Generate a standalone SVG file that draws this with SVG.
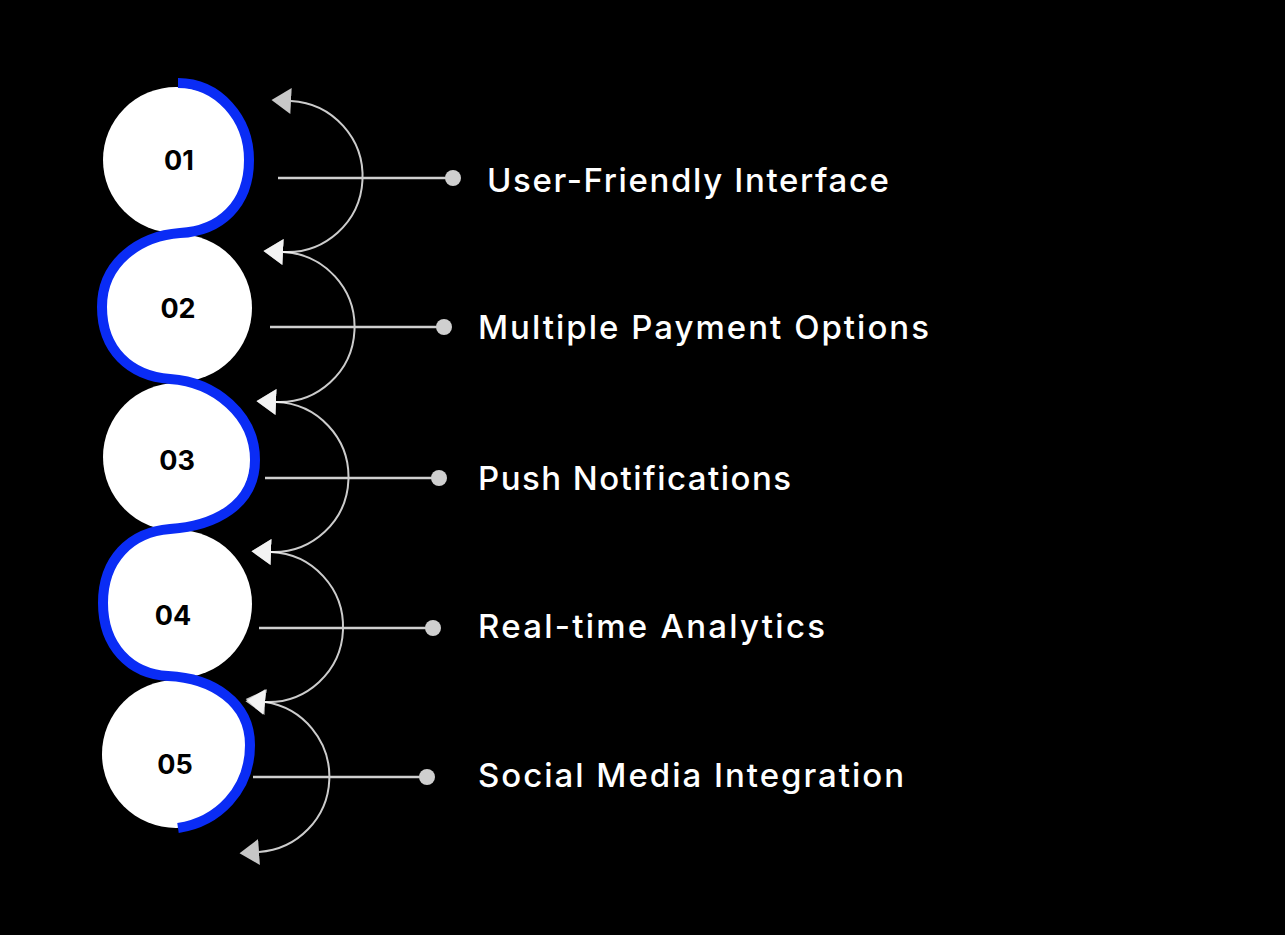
<svg xmlns="http://www.w3.org/2000/svg" width="1285" height="935" viewBox="0 0 1285 935">
<style>
.bg{fill:#000}
.disc{fill:#fff}
.num{font-family:Inter,"Open Sans","Liberation Sans",sans-serif;font-weight:700;font-size:27px;fill:#000;text-anchor:middle}
.lbl{font-family:Inter,"Open Sans","Liberation Sans",sans-serif;font-weight:500;font-size:33px;fill:#fff}
.wave{fill:none;stroke:#0a2cf5;stroke-width:10;stroke-linecap:butt}
.arc{fill:none;stroke:#fff;stroke-opacity:0.8;stroke-width:2}
.lead{stroke:#cfcfcf;stroke-width:2.5}
.dot{fill:#cfcfcf}
</style>
<defs>
<marker id="ah" markerUnits="userSpaceOnUse" markerWidth="20" markerHeight="26" viewBox="0 -12 18 24" refX="0" refY="0" orient="auto-start-reverse">
<path d="M0,-12 L18,0 L0,12 Z" fill="#fff" fill-opacity="0.78"/>
</marker>
</defs>
<rect class="bg" x="0" y="0" width="1285" height="935"/>
<g id="node-01"><circle class="disc" cx="176" cy="160" r="73"/><text class="num" x="179" y="170">01</text></g>
<g id="node-02"><circle class="disc" cx="178" cy="308" r="74"/><text class="num" x="178" y="318">02</text></g>
<g id="node-03"><circle class="disc" cx="177" cy="457" r="74"/><text class="num" x="177" y="470">03</text></g>
<g id="node-04"><circle class="disc" cx="178" cy="604" r="74"/><text class="num" x="173" y="625">04</text></g>
<g id="node-05"><circle class="disc" cx="176" cy="754" r="74"/><text class="num" x="175" y="774">05</text></g>
<g id="wave">
<path class="wave" d="M178,83 C218,83 249,118 249,160 C249,205 220,231 180,233 C140,236 102,262 102,307 C102,350 130,376 170,379 C215,382 255,415 255,460 C255,505 215,526 170,529 C130,532 103,560 103,603 C103,646 130,674 168,676 C212,678 250,702 250,745 C250,790 218,822 178,828"/>
</g>
<g id="connectors">
<path class="arc" d="M291,101 A75.5,75.5 0 0 1 283,252" marker-start="url(#ah)" marker-end="url(#ah)"/>
<path class="arc" d="M283,252 A75,75 0 0 1 276,402" marker-start="url(#ah)" marker-end="url(#ah)"/>
<path class="arc" d="M276,402 A75,75 0 0 1 271,552" marker-start="url(#ah)" marker-end="url(#ah)"/>
<path class="arc" d="M271,552 A75,75 0 0 1 265,702" marker-start="url(#ah)" marker-end="url(#ah)"/>
<path class="arc" d="M265,702 A75.5,75.5 0 0 1 259,852" marker-start="url(#ah)" marker-end="url(#ah)"/>
<line class="lead" x1="278" y1="178" x2="453" y2="178"/><circle class="dot" cx="453" cy="178" r="8"/>
<line class="lead" x1="270" y1="327" x2="444" y2="327"/><circle class="dot" cx="444" cy="327" r="8"/>
<line class="lead" x1="265" y1="478" x2="439" y2="478"/><circle class="dot" cx="439" cy="478" r="8"/>
<line class="lead" x1="259" y1="628" x2="433" y2="628"/><circle class="dot" cx="433" cy="628" r="8"/>
<line class="lead" x1="253" y1="777" x2="427" y2="777"/><circle class="dot" cx="427" cy="777" r="8"/>
</g>
<g id="labels">
<text class="lbl" x="487" y="192" textLength="402" lengthAdjust="spacing">User-Friendly Interface</text>
<text class="lbl" x="478" y="339" textLength="451" lengthAdjust="spacing">Multiple Payment Options</text>
<text class="lbl" x="478" y="490" textLength="313" lengthAdjust="spacing">Push Notifications</text>
<text class="lbl" x="478" y="638" textLength="347" lengthAdjust="spacing">Real-time Analytics</text>
<text class="lbl" x="478" y="787" textLength="426" lengthAdjust="spacing">Social Media Integration</text>
</g>
</svg>
